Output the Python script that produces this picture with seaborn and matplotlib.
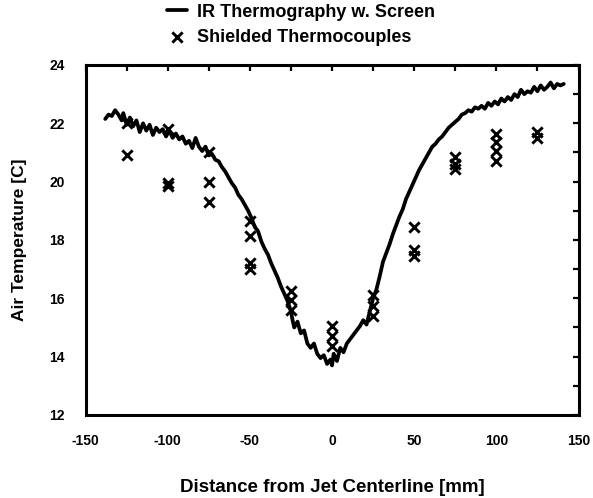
import matplotlib
matplotlib.use('Agg')
import matplotlib.pyplot as plt
from matplotlib.ticker import MultipleLocator
import seaborn as sns
import pandas as pd

# IR thermography profile
ir_x = [-138, -136, -134, -132, -130, -128, -127, -125, -123, -121, -119, -117, -115, -113, -111,
        -109, -107, -105, -103, -101, -99, -97, -95, -93, -91, -89, -87, -85, -83, -81,
        -79, -77, -75, -73, -71, -69, -67, -65, -63, -61, -59, -57, -55, -53, -51,
        -49, -47, -45, -43, -41, -39, -37, -35, -33, -31, -29, -27, -25, -24, -23,
        -21, -19, -17, -15, -13, -11, -9, -7, -5, -3, -1, 0, 1, 3, 5,
        7, 9, 11, 13, 15, 17, 19, 21, 23, 25, 27, 29, 31, 33, 35,
        37, 39, 41, 43, 45, 47, 49, 51, 53, 55, 57, 59, 61, 63, 65,
        67, 69, 71, 73, 75, 77, 79, 81, 83, 85, 87, 89, 91, 93, 95,
        97, 99, 101, 103, 105, 107, 109, 111, 113, 115, 117, 119, 121, 123, 125,
        127, 129, 131, 133, 135, 137, 139, 141]
ir_t = [22.15, 22.3, 22.25, 22.45, 22.3, 22.1, 22.35, 21.95, 22.2, 21.9, 22.1, 21.7, 22.0, 21.75, 21.95,
        21.6, 21.85, 21.7, 21.8, 21.55, 21.75, 21.5, 21.65, 21.45, 21.55, 21.3, 21.4, 21.15, 21.5, 21.2,
        21.05, 21.2, 20.9, 20.95, 20.75, 20.7, 20.5, 20.35, 20.15, 19.95, 19.8, 19.55, 19.4, 19.2, 19.0,
        18.75, 18.45, 18.3, 17.95, 17.7, 17.5, 17.2, 16.95, 16.7, 16.4, 16.15, 15.9, 15.55, 15.25, 15.0,
        15.2, 14.8, 14.9, 14.45, 14.3, 14.45, 14.1, 13.95, 14.05, 13.75, 13.9, 13.7, 14.1, 13.85, 14.3,
        14.15, 14.45, 14.6, 14.75, 14.9, 15.05, 15.25, 15.1, 15.55, 16.0, 16.3, 16.75, 17.25, 17.55, 17.85,
        18.2, 18.5, 18.8, 19.05, 19.4, 19.65, 19.9, 20.15, 20.4, 20.6, 20.8, 21.0, 21.2, 21.3, 21.45,
        21.55, 21.7, 21.85, 21.95, 22.05, 22.15, 22.3, 22.35, 22.45, 22.4, 22.55, 22.5, 22.6, 22.5, 22.7,
        22.6, 22.75, 22.65, 22.85, 22.75, 22.9, 22.8, 23.0, 22.9, 23.15, 23.0, 23.1, 23.05, 23.25, 23.1,
        23.3, 23.15, 23.25, 23.4, 23.2, 23.35, 23.3, 23.35]

# shielded thermocouple readings
tc_x = [-125, -125, -100, -100, -100, -75, -75, -75, -50, -50, -50, -50,
        -25, -25, -25, 0, 0, 0, 25, 25, 25, 50, 50, 50,
        75, 75, 75, 100, 100, 100, 100, 125, 125]
tc_t = [20.9, 22.0, 21.8, 19.95, 19.85, 21.0, 20.0, 19.3, 18.65, 18.15, 17.2, 17.0,
        16.25, 15.95, 15.6, 15.05, 14.7, 14.35, 16.1, 15.75, 15.4, 18.45, 17.65, 17.45,
        20.85, 20.6, 20.45, 21.65, 21.35, 21.05, 20.7, 21.7, 21.5]

ir = pd.DataFrame({'x': ir_x, 't': ir_t})
tc = pd.DataFrame({'x': tc_x, 't': tc_t})

sns.set_style('white')
plt.rcParams['font.family'] = ['Liberation Sans', 'DejaVu Sans']
plt.rcParams['font.weight'] = 'bold'
plt.rcParams['text.color'] = 'black'
plt.rcParams['axes.labelcolor'] = 'black'
plt.rcParams['xtick.color'] = 'black'
plt.rcParams['ytick.color'] = 'black'
plt.rcParams['axes.unicode_minus'] = False

fig = plt.figure(figsize=(5.93, 4.98), dpi=100)
ax = fig.add_axes([0.1442, 0.1667, 0.8314, 0.7028])

sns.lineplot(data=ir, x='x', y='t', ax=ax, color='black', linewidth=2.7,
             label='IR Thermography w. Screen', sort=False)
sns.scatterplot(data=tc, x='x', y='t', ax=ax, marker='x', color='black', s=55,
                linewidth=2.1, label='Shielded Thermocouples')

ax.set_xlim(-150, 150)
ax.set_ylim(12, 24)
ax.xaxis.set_major_locator(MultipleLocator(50))
ax.xaxis.set_minor_locator(MultipleLocator(25))
ax.yaxis.set_major_locator(MultipleLocator(2))
ax.yaxis.set_minor_locator(MultipleLocator(1))
ax.tick_params(which='both', direction='in', top=True, right=True,
               length=4, width=1.6, labelsize=10, pad=14)
ax.tick_params(axis='y', pad=15)
for sp in ax.spines.values():
    sp.set_linewidth(2.2)
    sp.set_color('black')

ax.set_xlabel('Distance from Jet Centerline [mm]', fontsize=13.5, fontweight='bold', labelpad=22)
ax.set_ylabel('Air Temperature [C]', fontsize=12.5, fontweight='bold', labelpad=16)

leg = ax.legend(loc='upper left', bbox_to_anchor=(0.275, 1.0), bbox_transform=fig.transFigure,
                borderaxespad=0.0, borderpad=0.2, frameon=False,
                handlelength=1.1, handletextpad=0.6, labelspacing=0.45,
                prop={'size': 13, 'weight': 'bold'})

fig.savefig('out.png', dpi=100)
